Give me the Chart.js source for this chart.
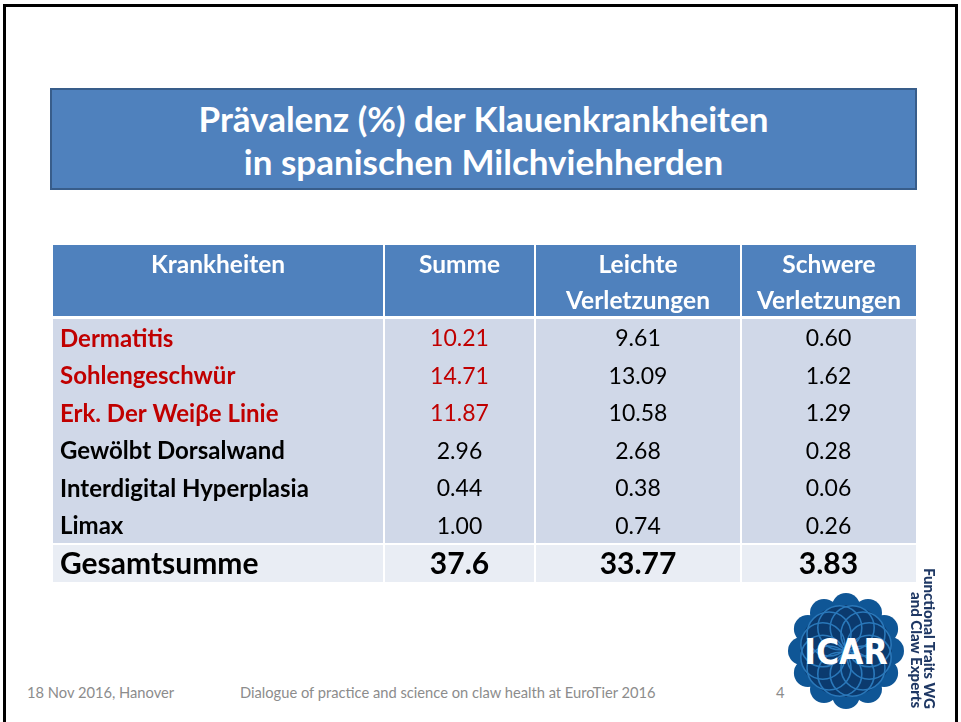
<!DOCTYPE html>
<html>
<head>
<meta charset="utf-8">
<script src="https://cdn.jsdelivr.net/npm/chart.js@4.4.1/dist/chart.umd.min.js"></script>
<style>
  body { margin: 0; width: 961px; height: 722px; overflow: hidden; position: relative; background: #fff; font-family: Lato, "Open Sans", sans-serif; }
  #frame { position: absolute; left: 3px; top: 4px; width: 949px; height: 740px; border: 3px solid #000; border-bottom: none; }
  #title { position: absolute; left: 50px; top: 88px; width: 867px; height: 102px; box-sizing: border-box;
           background: #4F81BD; border: 2px solid #385D8A; color: #fff; font-weight: 700; font-size: 35px;
           text-align: center; line-height: 43px; padding-top: 7px; }
  #tbl { position: absolute; left: 53px; top: 245px; }
  .foot { position: absolute; top: 683px; font-size: 14.7px; line-height: 18px; color: #8c8c8c; white-space: nowrap; }
  #wg { position: absolute; left: 910px; top: 568px; height: 140px; writing-mode: vertical-rl; text-align: end;
        font-size: 15px; line-height: 13px; font-weight: 900; color: #1F3864; white-space: nowrap; }
  #logo { position: absolute; left: 785px; top: 590px; }
</style>
</head>
<body>
<div id="frame"></div>
<div id="title">Prävalenz (%) der Klauenkrankheiten<br>in spanischen Milchviehherden</div>
<div id="tbl"><canvas id="chart" width="863" height="337"></canvas></div>
<div class="foot" style="left:27px">18 Nov 2016, Hanover</div>
<div class="foot" style="left:240px">Dialogue of practice and science on claw health at EuroTier 2016</div>
<div class="foot" style="left:776px">4</div>
<svg id="logo" width="122" height="122" viewBox="-61 -61 122 122">
  <g id="lobes"></g>
  <circle r="46" fill="#0B3A6E"/>
  <g id="rings" fill="none" stroke="#2A78BA" stroke-width="1.6"></g>
  <text x="0" y="13" text-anchor="middle" fill="#fff" font-family="'DejaVu Sans Condensed', 'DejaVu Sans', sans-serif" font-weight="700" font-size="35">ICAR</text>
</svg>
<div id="wg">Functional Traits WG<br>and Claw Experts</div>

<script>
// table content
const krankheiten = ['Dermatitis', 'Sohlengeschwür', 'Erk. Der Weiβe Linie', 'Gewölbt Dorsalwand', 'Interdigital Hyperplasia', 'Limax'];
const summe = [10.21, 14.71, 11.87, 2.96, 0.44, 1.00];
const leichte = [9.61, 13.09, 10.58, 2.68, 0.38, 0.74];
const schwere = [0.60, 1.62, 1.29, 0.28, 0.06, 0.26];
const gesamtLabel = 'Gesamtsumme';
const gesamt = [37.6, 33.77, 3.83];
const spalten = [['Krankheiten'], ['Summe'], ['Leichte', 'Verletzungen'], ['Schwere', 'Verletzungen']];
const markiert = 3; // first rows shown in red

// layout of the table (px across the table width)
const colEdges = [0, 331, 482, 688, 863];
const headerHeight = 74;

const rowLabels = krankheiten.concat([gesamtLabel]);
const lastRow = rowLabels.length - 1;
const werte = [summe, leichte, schwere];

// small svg logo decoration
(function buildLogo() {
    const ns = 'http://www.w3.org/2000/svg';
    const lobes = document.getElementById('lobes');
    const rings = document.getElementById('rings');
    for (let i = 0; i < 12; i++) {
        const a = i * Math.PI / 6;
        const c = document.createElementNS(ns, 'circle');
        c.setAttribute('cx', 44 * Math.cos(a));
        c.setAttribute('cy', 44 * Math.sin(a));
        c.setAttribute('r', 14);
        c.setAttribute('fill', '#0F5696');
        lobes.appendChild(c);
        const r = document.createElementNS(ns, 'circle');
        r.setAttribute('cx', 24 * Math.cos(a + Math.PI / 12));
        r.setAttribute('cy', 24 * Math.sin(a + Math.PI / 12));
        r.setAttribute('r', 22);
        rings.appendChild(r);
    }
})();

function fmt(v) {
    return v.toFixed(2);
}

const tablePlugin = {
    id: 'tablePlugin',
    beforeDatasetsDraw(chart) {
        const ctx = chart.ctx;
        const xs = chart.scales.x;
        const top = chart.chartArea.top - headerHeight;
        ctx.save();
        spalten.forEach((lines, c) => {
            const x0 = xs.getPixelForValue(colEdges[c]) + (c > 0 ? 1 : 0);
            const x1 = xs.getPixelForValue(colEdges[c + 1]) - (c < spalten.length - 1 ? 1 : 0);
            ctx.fillStyle = '#4F81BD';
            ctx.fillRect(x0, top, x1 - x0, headerHeight - 3);
            ctx.fillStyle = '#fff';
            ctx.font = 'bold 24.5px Lato';
            ctx.textAlign = 'center';
            ctx.textBaseline = 'middle';
            lines.forEach((t, k) => ctx.fillText(t, (x0 + x1) / 2, top + 20 + k * 36));
        });
        ctx.restore();
    },
    afterDatasetsDraw(chart) {
        const ctx = chart.ctx;
        const xs = chart.scales.x;
        const ys = chart.scales.y;
        const area = chart.chartArea;
        ctx.save();
        // white cell separators
        ctx.fillStyle = '#fff';
        for (let c = 1; c < colEdges.length - 1; c++) {
            ctx.fillRect(Math.round(xs.getPixelForValue(colEdges[c])) - 1, area.top, 2, area.bottom - area.top);
        }
        ctx.fillRect(area.left, Math.round(ys.getPixelForValue(lastRow - 0.5)) - 1, area.right - area.left, 2);

        ctx.textBaseline = 'middle';
        rowLabels.forEach((name, i) => {
            const y = ys.getPixelForValue(i);
            const total = i === lastRow;
            const red = i < markiert;
            ctx.textAlign = 'left';
            ctx.fillStyle = red ? '#C00000' : '#000';
            ctx.font = total ? 'bold 30px Lato' : 'bold 24px Lato';
            ctx.fillText(name, xs.getPixelForValue(colEdges[0]) + 7, y + 1);
            for (let c = 1; c < spalten.length; c++) {
                const cx = xs.getPixelForValue((colEdges[c] + colEdges[c + 1]) / 2);
                ctx.textAlign = 'center';
                if (total) {
                    ctx.fillStyle = '#000';
                    ctx.font = 'bold 30px Lato';
                    ctx.fillText(String(gesamt[c - 1]), cx, y + 1);
                } else {
                    ctx.fillStyle = (red && c === 1) ? '#C00000' : '#000';
                    ctx.font = '23px Lato';
                    ctx.fillText(fmt(werte[c - 1][i]), cx, y + 1);
                }
            }
        });
        ctx.restore();
    }
};

const datasets = spalten.map((lines, c) => ({
    label: lines.join(' '),
    data: rowLabels.map(() => [colEdges[c], colEdges[c + 1]]),
    backgroundColor: ctx => ctx.dataIndex === lastRow ? '#E9EDF4' : '#D0D8E8',
    borderWidth: 0,
    inflateAmount: 1,
    grouped: false,
    barPercentage: 1,
    categoryPercentage: 1
}));

new Chart(document.getElementById('chart').getContext('2d'), {
    type: 'bar',
    data: { labels: rowLabels, datasets: datasets },
    options: {
        indexAxis: 'y',
        responsive: false,
        animation: false,
        layout: { padding: { top: headerHeight, left: 0, right: 0, bottom: 0 } },
        scales: {
            x: { type: 'linear', min: colEdges[0], max: colEdges[colEdges.length - 1], display: false },
            y: { display: false }
        },
        plugins: { legend: { display: false }, tooltip: { enabled: false }, title: { display: false } }
    },
    plugins: [tablePlugin]
});
</script>
</body>
</html>
